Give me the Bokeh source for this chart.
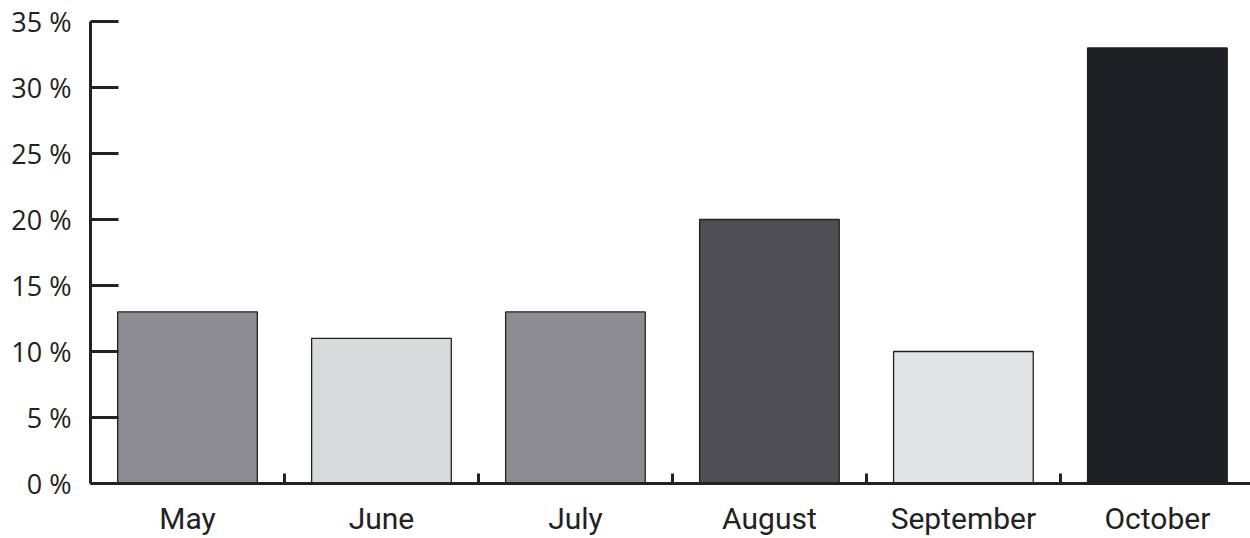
from bokeh.plotting import figure
from bokeh.models import FixedTicker, ColumnDataSource, Range1d
from bokeh.embed import file_html
from bokeh.resources import INLINE

months = ["May", "June", "July", "August", "September", "October"]
values = [13, 11, 13, 20, 10, 33]
colors = ["#8d8c91", "#d8dbdc", "#8d8c91", "#4f4e54", "#e2e3e5", "#1e1f22"]
y_ticks = [0, 5, 10, 15, 20, 25, 30, 35]
y_labels = {t: f"{t} %" for t in y_ticks}

centers = [i + 0.5 for i in range(len(months))]
src = ColumnDataSource(dict(x=centers, top=values, color=colors))

p = figure(width=1250, height=538, output_backend="svg", toolbar_location=None,
           x_range=Range1d(0, 5.98), y_range=Range1d(0, 35),
           min_border_left=90, min_border_right=0, min_border_top=21, min_border_bottom=54)
p.outline_line_color = None
p.grid.visible = False
p.background_fill_color = "white"

p.vbar(x="x", top="top", width=0.72, bottom=0, fill_color="color",
       line_color="#222222", line_width=1.3, source=src)

xa = p.xaxis[0]
xa.ticker = FixedTicker(ticks=centers, minor_ticks=[1, 2, 3, 4, 5])
xa.major_label_overrides = {c: m for c, m in zip(centers, months)}
xa.major_tick_in = 0
xa.major_tick_out = 0
xa.minor_tick_in = 10
xa.minor_tick_out = 0
xa.minor_tick_line_width = 3
xa.minor_tick_line_color = "#222222"
xa.axis_line_width = 3
xa.axis_line_color = "#222222"
xa.major_label_text_font = "Roboto"
xa.major_label_text_font_size = "30px"
xa.major_label_text_color = "#222222"
xa.major_label_standoff = 17

ya = p.yaxis[0]
ya.ticker = FixedTicker(ticks=y_ticks, minor_ticks=[])
ya.major_label_overrides = y_labels
ya.major_tick_in = 28
ya.major_tick_out = 0
ya.major_tick_line_width = 3
ya.major_tick_line_color = "#222222"
ya.axis_line_width = 3
ya.axis_line_color = "#222222"
ya.major_label_text_font = "Open Sans"
ya.major_label_text_font_size = "27px"
ya.major_label_text_color = "#222222"
ya.major_label_standoff = 19

open("out.html", "w").write(file_html(p, INLINE))
